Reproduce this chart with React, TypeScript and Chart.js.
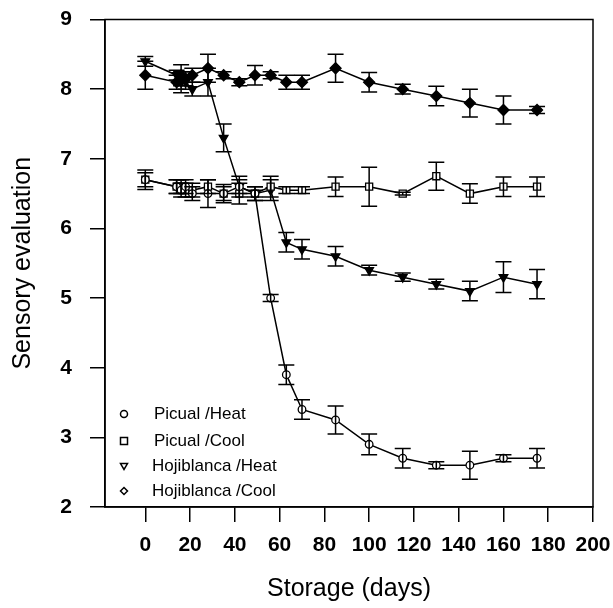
import React, { useEffect, useRef } from "react";
import { Chart, registerables } from "chart.js";

Chart.register(...registerables);

const days = [0, 14, 16, 18, 21, 28, 35, 42, 49, 56, 63, 70, 85, 100, 115, 130, 145, 160, 175];

const picualHeat = [6.7, 6.6, 6.55, 6.6, 6.5, 6.5, 6.5, 6.6, 6.5, 5.0, 3.9, 3.4, 3.25, 2.9, 2.7, 2.6, 2.6, 2.7, 2.7];
const picualHeatErr = [0.14, 0.1, 0.1, 0.1, 0.1, 0.2, 0.13, 0.1, 0.1, 0.05, 0.14, 0.14, 0.2, 0.15, 0.14, 0.05, 0.2, 0.05, 0.14];

const picualCool = [6.7, 6.6, 6.6, 6.55, 6.55, 6.6, 6.5, 6.5, 6.5, 6.6, 6.55, 6.55, 6.6, 6.6, 6.5, 6.75, 6.5, 6.6, 6.6];
const picualCoolErr = [0.1, 0.1, 0.1, 0.1, 0.1, 0.1, 0.1, 0.15, 0.05, 0.15, 0.05, 0.05, 0.14, 0.28, 0.02, 0.2, 0.14, 0.14, 0.14];

const hojiHeat = [8.4, 8.2, 8.1, 8.1, 8.0, 8.1, 7.3, 6.6, 6.5, 6.55, 5.8, 5.7, 5.6, 5.4, 5.3, 5.2, 5.1, 5.3, 5.2];
const hojiHeatErr = [0.07, 0.07, 0.15, 0.1, 0.1, 0.2, 0.2, 0.15, 0.1, 0.15, 0.14, 0.14, 0.14, 0.07, 0.06, 0.07, 0.14, 0.22, 0.21];

const hojiCool = [8.2, 8.1, 8.2, 8.15, 8.2, 8.3, 8.2, 8.1, 8.2, 8.2, 8.1, 8.1, 8.3, 8.1, 8.0, 7.9, 7.8, 7.7, 7.7];
const hojiCoolErr = [0.2, 0.1, 0.15, 0.1, 0.1, 0.2, 0.05, 0.05, 0.14, 0.05, 0.1, 0.1, 0.2, 0.14, 0.07, 0.14, 0.2, 0.2, 0.05];

const seriesLabels = ["Picual /Heat", "Picual /Cool", "Hojiblanca /Heat", "Hojiblanca /Cool"];
const xTicks = [0, 20, 40, 60, 80, 100, 120, 140, 160, 180, 200];
const yTicks = [2, 3, 4, 5, 6, 7, 8, 9];

const FONT = "'Liberation Sans', Arial, sans-serif";

const toPoints = (vals: number[]) => vals.map((v, i) => ({ x: days[i], y: v }));

const errorBarPlugin = {
  id: "errorBars",
  afterDatasetsDraw(chart: any) {
    const { ctx, scales } = chart;
    const x = scales.x;
    const y = scales.y;
    ctx.save();
    ctx.strokeStyle = "#000";
    ctx.lineWidth = 1.5;
    chart.data.datasets.forEach((ds: any) => {
      const errs: number[] = ds.errors || [];
      ds.data.forEach((p: any, j: number) => {
        const e = errs[j] || 0;
        const px = x.getPixelForValue(p.x);
        const top = y.getPixelForValue(p.y + e);
        const bot = y.getPixelForValue(p.y - e);
        ctx.beginPath();
        ctx.moveTo(px, top);
        ctx.lineTo(px, bot);
        ctx.moveTo(px - 8, top);
        ctx.lineTo(px + 8, top);
        ctx.moveTo(px - 8, bot);
        ctx.lineTo(px + 8, bot);
        ctx.stroke();
      });
    });
    ctx.restore();
  },
};

const framePlugin = {
  id: "frame",
  afterDraw(chart: any) {
    const { ctx, chartArea } = chart;
    ctx.save();
    ctx.strokeStyle = "#000";
    ctx.lineWidth = 1.5;
    ctx.strokeRect(chartArea.left, chartArea.top, chartArea.right - chartArea.left, chartArea.bottom - chartArea.top);
    ctx.restore();
  },
};

function drawMarker(ctx: CanvasRenderingContext2D, style: string, cx: number, cy: number) {
  ctx.beginPath();
  const r = 3.5;
  if (style === "circle") {
    ctx.arc(cx, cy, r, 0, Math.PI * 2);
  } else if (style === "rect") {
    ctx.rect(cx - r, cy - r, r * 2, r * 2);
  } else if (style === "triangleDown") {
    ctx.moveTo(cx - r, cy - r * 0.7);
    ctx.lineTo(cx + r, cy - r * 0.7);
    ctx.lineTo(cx, cy + r);
    ctx.closePath();
  } else {
    ctx.moveTo(cx, cy - r);
    ctx.lineTo(cx + r, cy);
    ctx.lineTo(cx, cy + r);
    ctx.lineTo(cx - r, cy);
    ctx.closePath();
  }
  ctx.stroke();
}

const legendStyles = ["circle", "rect", "triangleDown", "diamond"];

const legendPlugin = {
  id: "innerLegend",
  afterDraw(chart: any) {
    const { ctx, chartArea } = chart;
    ctx.save();
    ctx.strokeStyle = "#000";
    ctx.lineWidth = 1.5;
    ctx.fillStyle = "#000";
    ctx.font = `17px ${FONT}`;
    ctx.textBaseline = "middle";
    ctx.textAlign = "left";
    const rowH = 25;
    const baseY = chartArea.bottom - 18 - rowH * (seriesLabels.length - 1);
    seriesLabels.forEach((lab, i) => {
      const cy = baseY + i * rowH + (i > 0 ? 2 : 0);
      drawMarker(ctx, legendStyles[i], chartArea.left + 19, cy);
      ctx.fillText(lab, chartArea.left + 49 - (i >= 2 ? 2 : 0), cy);
    });
    ctx.restore();
  },
};

export default function App() {
  const ref = useRef<HTMLCanvasElement | null>(null);

  useEffect(() => {
    if (!ref.current) return;
    const common = {
      borderColor: "#000",
      borderWidth: 1.5,
      pointBorderColor: "#000",
      pointBorderWidth: 1.3,
      tension: 0,
      fill: false,
    };
    const chart = new Chart(ref.current, {
      type: "line",
      data: {
        datasets: [
          {
            ...common,
            label: seriesLabels[0],
            data: toPoints(picualHeat),
            errors: picualHeatErr,
            pointStyle: "circle",
            pointRadius: 3.8,
            pointBackgroundColor: "#fff",
          } as any,
          {
            ...common,
            label: seriesLabels[1],
            data: toPoints(picualCool),
            errors: picualCoolErr,
            pointStyle: "rect",
            pointRadius: 5,
            pointBackgroundColor: "#fff",
          } as any,
          {
            ...common,
            label: seriesLabels[2],
            data: toPoints(hojiHeat),
            errors: hojiHeatErr,
            pointStyle: "triangle",
            pointRotation: 180,
            pointRadius: 5,
            pointBackgroundColor: "#000",
          } as any,
          {
            ...common,
            label: seriesLabels[3],
            data: toPoints(hojiCool),
            errors: hojiCoolErr,
            pointStyle: "rectRot",
            pointRadius: 5.5,
            pointBackgroundColor: "#000",
          } as any,
        ],
      },
      options: {
        animation: false,
        responsive: false,
        maintainAspectRatio: false,
        devicePixelRatio: 1,
        layout: { padding: { top: 19.5, right: 20, left: 0, bottom: 0 } },
        plugins: { legend: { display: false }, tooltip: { enabled: false } },
        scales: {
          x: {
            type: "linear",
            min: -18,
            max: 200,
            afterBuildTicks: (s: any) => {
              s.ticks = xTicks.map((v) => ({ value: v }));
            },
            afterFit: (s: any) => {
              s.height = 101;
              s.paddingLeft = 0;
              s.paddingRight = 0;
            },
            grid: { drawOnChartArea: false, drawTicks: true, tickLength: 15, color: "#000", lineWidth: 1.5 },
            border: { display: true, color: "#000", width: 1.5 },
            ticks: {
              color: "#000",
              font: { family: FONT, size: 21, weight: "bold" },
              padding: 11,
              maxRotation: 0,
              autoSkip: false,
            },
            title: {
              display: true,
              text: "Storage (days)",
              color: "#000",
              font: { family: FONT, size: 25 },
              padding: { top: 0, bottom: 4 },
            },
          },
          y: {
            type: "linear",
            min: 2,
            max: 9,
            afterBuildTicks: (s: any) => {
              s.ticks = yTicks.map((v) => ({ value: v }));
            },
            afterFit: (s: any) => {
              s.width = 105;
              s.paddingTop = 0;
              s.paddingBottom = 0;
            },
            grid: { drawOnChartArea: false, drawTicks: true, tickLength: 15, color: "#000", lineWidth: 1.5 },
            border: { display: true, color: "#000", width: 1.5 },
            ticks: {
              color: "#000",
              font: { family: FONT, size: 21, weight: "bold" },
              padding: 18,
              autoSkip: false,
            },
            title: {
              display: true,
              text: "Sensory evaluation",
              color: "#000",
              font: { family: FONT, size: 25 },
              padding: { top: 8, bottom: 0 },
            },
          },
        },
      },
      plugins: [errorBarPlugin, framePlugin, legendPlugin],
    } as any);
    return () => chart.destroy();
  }, []);

  return (
    <div style={{ position: "fixed", left: 0, top: 0, width: 613, height: 608, background: "#fff" }}>
      <canvas ref={ref} width={613} height={608} style={{ width: 613, height: 608, display: "block" }} />
    </div>
  );
}
